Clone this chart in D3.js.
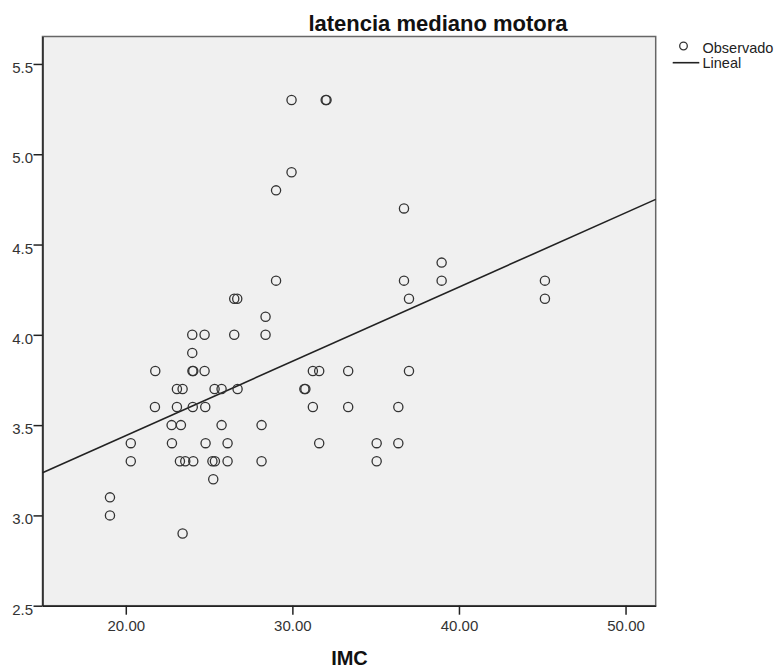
<!DOCTYPE html>
<html>
<head>
<meta charset="utf-8">
<script src="https://cdn.jsdelivr.net/npm/d3@7"></script>
<style>
  body { margin: 0; background: #fff; }
  text { font-family: "Liberation Sans", Arial, sans-serif; }
</style>
</head>
<body>
<script>
// IMC (x) and latencia mediano motora (y)
var imc = [
  29.95, 32.0, 32.05,
  29.95,
  29.02,
  36.70,
  38.96,
  29.02, 36.70, 38.96, 45.16,
  26.51, 26.69, 37.0, 45.16,
  28.39,
  23.99, 24.73, 26.51, 28.39,
  23.99,
  21.77, 24.0, 24.05, 24.73, 31.23, 31.61, 33.35, 37.0,
  23.07, 23.41, 25.33, 25.75, 26.71, 30.72, 30.78,
  21.75, 23.07, 24.02, 24.77, 31.23, 33.35, 36.36,
  22.75, 23.31, 25.75, 28.15,
  20.30, 22.77, 24.79, 26.11, 31.61, 35.06, 36.36,
  20.30, 23.25, 23.57, 24.05, 25.20, 25.35, 26.11, 28.15, 35.06,
  25.25,
  19.05,
  19.05,
  23.41
];
var latencia = [
  5.3, 5.3, 5.3,
  4.9,
  4.8,
  4.7,
  4.4,
  4.3, 4.3, 4.3, 4.3,
  4.2, 4.2, 4.2, 4.2,
  4.1,
  4.0, 4.0, 4.0, 4.0,
  3.9,
  3.8, 3.8, 3.8, 3.8, 3.8, 3.8, 3.8, 3.8,
  3.7, 3.7, 3.7, 3.7, 3.7, 3.7, 3.7,
  3.6, 3.6, 3.6, 3.6, 3.6, 3.6, 3.6,
  3.5, 3.5, 3.5, 3.5,
  3.4, 3.4, 3.4, 3.4, 3.4, 3.4, 3.4,
  3.3, 3.3, 3.3, 3.3, 3.3, 3.3, 3.3, 3.3, 3.3,
  3.2,
  3.1,
  3.0,
  2.9
];

// linear fit ends, read at the plot edges
var linealX = [15, 51.81];
var linealY = [3.236, 4.750];

var xTicks = [20, 30, 40, 50];
var yTicks = [2.5, 3.0, 3.5, 4.0, 4.5, 5.0, 5.5];

var w = 780, h = 668;
var plotLeft = 42.5, plotRight = 655.7, plotTop = 36.5, plotBottom = 605.7;

var svg = d3.select("body")
  .append("svg")
  .attr("width", w)
  .attr("height", h);

var x = d3.scaleLinear().domain([15, 51.81]).range([plotLeft, plotRight]);
var y = d3.scaleLinear().domain([2.5, 5.652]).range([plotBottom, plotTop]);

// plot background
svg.append("rect")
  .attr("x", plotLeft)
  .attr("y", plotTop)
  .attr("width", plotRight - plotLeft)
  .attr("height", plotBottom - plotTop)
  .attr("fill", "#f0f0f0")
  .attr("stroke", "#666")
  .attr("stroke-width", 1.5);

// regression line
var lineData = linealX.map(function(d, i) { return [d, linealY[i]]; });
svg.append("path")
  .datum(lineData)
  .attr("d", d3.line()
    .x(function(d) { return x(d[0]); })
    .y(function(d) { return y(d[1]); }))
  .attr("fill", "none")
  .attr("stroke", "#222")
  .attr("stroke-width", 1.6);

// points
svg.selectAll("circle.obs")
  .data(imc)
  .enter()
  .append("circle")
  .attr("class", "obs")
  .attr("cx", function(d) { return x(d); })
  .attr("cy", function(d, i) { return y(latencia[i]); })
  .attr("r", 4.6)
  .attr("fill", "none")
  .attr("stroke", "#333")
  .attr("stroke-width", 1.3);

// axes
var xAxis = svg.append("g")
  .attr("transform", "translate(0," + plotBottom + ")")
  .call(d3.axisBottom(x)
    .tickValues(xTicks)
    .tickSize(9)
    .tickSizeOuter(0)
    .tickFormat(d3.format(".2f")));

var yAxis = svg.append("g")
  .attr("transform", "translate(" + plotLeft + ",0)")
  .call(d3.axisLeft(y)
    .tickValues(yTicks)
    .tickSize(9)
    .tickPadding(0)
    .tickSizeOuter(0)
    .tickFormat(d3.format(".1f")));

[xAxis, yAxis].forEach(function(g) {
  g.select(".domain").attr("stroke", "#222").attr("stroke-width", 1.5);
  g.selectAll(".tick line").attr("stroke", "#222").attr("stroke-width", 1.5);
  g.selectAll(".tick text")
    .attr("fill", "#333")
    .style("font-size", "15px")
    .style("font-family", "'Liberation Sans', Arial, sans-serif");
});
xAxis.selectAll(".tick text").attr("y", 25).attr("dy", null);
yAxis.selectAll(".tick text").attr("x", -9.5).attr("dy", 8.5);

// title
svg.append("text")
  .attr("x", 438)
  .attr("y", 31)
  .attr("text-anchor", "middle")
  .style("font-size", "22px")
  .style("font-weight", "bold")
  .attr("fill", "#111")
  .text("latencia mediano motora");

// x axis title
svg.append("text")
  .attr("x", 349.5)
  .attr("y", 665)
  .attr("text-anchor", "middle")
  .style("font-size", "20px")
  .style("font-weight", "bold")
  .attr("fill", "#111")
  .text("IMC");

// legend
svg.append("circle")
  .attr("cx", 683.5)
  .attr("cy", 46)
  .attr("r", 3.8)
  .attr("fill", "none")
  .attr("stroke", "#333")
  .attr("stroke-width", 1.3);
svg.append("line")
  .attr("x1", 672.7)
  .attr("x2", 699.3)
  .attr("y1", 62.7)
  .attr("y2", 62.7)
  .attr("stroke", "#222")
  .attr("stroke-width", 1.6);
svg.append("text")
  .attr("x", 702.5)
  .attr("y", 52.7)
  .style("font-size", "14.5px")
  .attr("fill", "#222")
  .text("Observado");
svg.append("text")
  .attr("x", 702.5)
  .attr("y", 67.7)
  .style("font-size", "14.5px")
  .attr("fill", "#222")
  .text("Lineal");
</script>
</body>
</html>
